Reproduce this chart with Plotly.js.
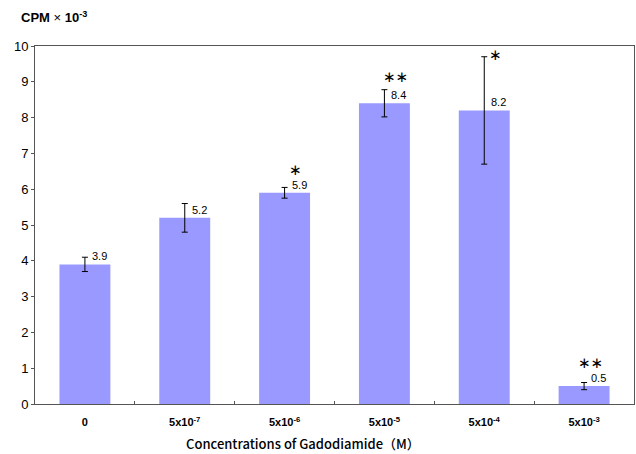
<!DOCTYPE html>
<html><head><meta charset="utf-8">
<script src="https://cdn.plot.ly/plotly-3.0.1.min.js"></script>
<style>body{margin:0;background:#fff}#c{width:636px;height:454px}</style>
</head><body><div id="c"></div>
<script>
const categories = ["0", "5x10<sup>-7</sup>", "5x10<sup>-6</sup>", "5x10<sup>-5</sup>", "5x10<sup>-4</sup>", "5x10<sup>-3</sup>"];
const values = [3.9, 5.2, 5.9, 8.4, 8.2, 0.5];
const errors = [0.2, 0.4, 0.15, 0.38, 1.5, 0.1];
const valueLabels = ["3.9", "5.2", "5.9", "8.4", "8.2", "0.5"];
const stars = ["", "", "∗", "∗∗", "∗", "∗∗"];

const trace = {
  type: "bar", x: categories, y: values,
  marker: {color: "#9999ff", line: {width: 0}},
  error_y: {type: "data", array: errors, visible: true, color: "#000", thickness: 1, width: 3},
  hoverinfo: "none"
};

const starShiftX = [0, 0, 11, 11, 11, 6];
const starShiftY = [0, 0, 23, 26, 55, 23];

const annotations = [];
categories.forEach((c, i) => {
  annotations.push({x: c, y: values[i], xref: "x", yref: "y",
    text: valueLabels[i], showarrow: false, xanchor: "left", yanchor: "bottom",
    xshift: 5, yshift: 0,
    font: {family: "Liberation Sans, Arial, sans-serif", size: 11, color: "#000"}});
  if (stars[i]) {
    annotations.push({x: c, y: values[i], xref: "x", yref: "y",
      text: stars[i], showarrow: false, xanchor: "center", yanchor: "middle",
      xshift: starShiftX[i], yshift: starShiftY[i],
      font: {family: "DejaVu Sans, sans-serif", size: 15, color: "#000"}});
  }
});
// y-axis unit label
annotations.push({x: 0, y: 1, xref: "paper", yref: "paper", xanchor: "left", yanchor: "middle",
  xshift: -16, yshift: 29,
  text: "<b>CPM</b> × <b>10<sup>-3</sup></b>", showarrow: false,
  font: {family: "Liberation Sans, Arial, sans-serif", size: 13, color: "#000"}});
// x-axis title
annotations.push({x: 0.447, y: 0, xref: "paper", yref: "paper", xanchor: "center", yanchor: "middle",
  yshift: -39,
  text: "Concentrations of Gadodiamide（M）", showarrow: false,
  font: {family: "Noto Sans CJK KR, sans-serif", size: 13, weight: 500, color: "#000"}});

const layout = {
  width: 636, height: 454,
  margin: {l: 35, r: 2, t: 46, b: 50},
  paper_bgcolor: "#fff", plot_bgcolor: "#fff",
  bargap: 0.49, showlegend: false,
  font: {family: "Liberation Sans, Arial, sans-serif", color: "#000"},
  xaxis: {
    type: "category", tickson: "boundaries", ticks: "inside", ticklen: 3, tickcolor: "#555",
    showline: true, linecolor: "#555", linewidth: 1, mirror: true,
    tickfont: {family: "Liberation Sans, Arial, sans-serif", size: 11, weight: "bold", color: "#000"},
    ticklabelstandoff: 8
  },
  yaxis: {
    range: [0, 10], dtick: 1, ticks: "outside", ticklen: 3, tickcolor: "#555",
    showgrid: false, zeroline: false,
    showline: true, linecolor: "#555", linewidth: 1, mirror: true,
    tickfont: {family: "Liberation Sans, Arial, sans-serif", size: 13, color: "#000"}
  },
  annotations: annotations
};

Plotly.newPlot("c", [trace], layout, {staticPlot: true, displayModeBar: false});
</script></body></html>
